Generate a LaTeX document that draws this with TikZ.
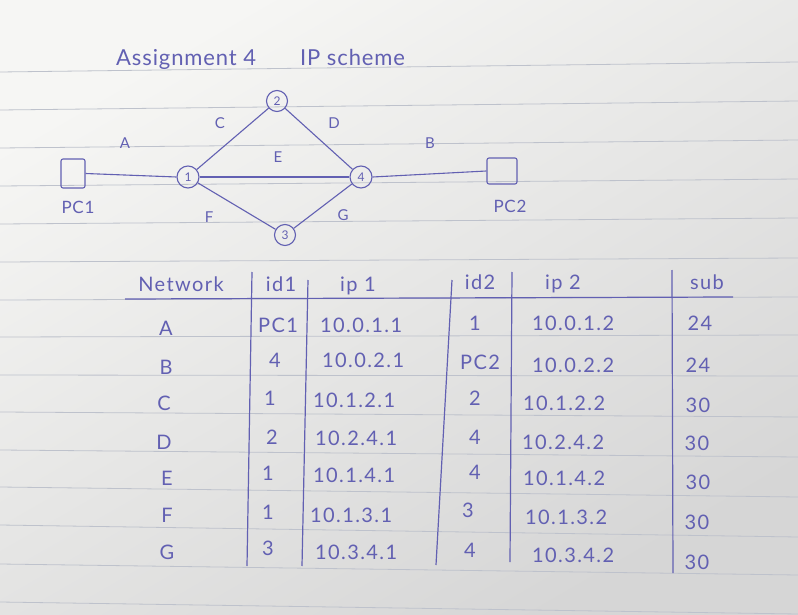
\documentclass[tikz,border=0pt]{standalone}
\usepackage{fontspec}
\setmainfont{Lato}
\definecolor{inkc}{RGB}{98,96,178}
\definecolor{pagetop}{RGB}{246,246,244}
\definecolor{pagebot}{RGB}{214,214,214}
\definecolor{rulec}{RGB}{190,194,204}
\begin{document}
\begin{tikzpicture}[x=1pt,y=-1pt,
  router/.style={circle, draw=inkc, line width=1.1pt, minimum size=22pt, inner sep=0pt, text=inkc, font=\fontsize{12}{12}\selectfont},
  pcbox/.style={draw=inkc, line width=1.1pt, rounded corners=2pt, minimum width=24pt, minimum height=29pt, inner sep=0pt},
  lbl/.style={text=inkc, font=\fontsize{15}{15}\selectfont, inner sep=0pt},
  pclbl/.style={text=inkc, font=\fontsize{17}{17}\selectfont\addfontfeature{LetterSpace=4}, inner sep=0pt},
  ttl/.style={text=inkc, font=\fontsize{22}{22}\selectfont\addfontfeature{LetterSpace=4}, inner sep=0pt, anchor=base west},
  cell/.style={text=inkc, font=\fontsize{20}{20}\selectfont\addfontfeature{LetterSpace=7}, inner sep=0pt, text height=14pt, text depth=0pt},
  link/.style={draw=inkc, line width=1.1pt},
  tline/.style={draw=inkc, line width=1.2pt},
  rulel/.style={draw=rulec, line width=0.8pt}
]
\useasboundingbox (0,0) rectangle (798,615);
\shade[top color=pagetop, bottom color=pagebot, shading angle=30] (0,0) rectangle (798,615);
% notebook ruling
\foreach \yl/\yr in {72/62,110/101,148/140,186/179,224/218,262/258,300/297,337/335,375/376,412/417,450/457,487/497,525/537,564/575,602/614}
  \draw[rulel] (0,\yl) -- (798,\yr);

% title
\node[ttl] (t1) at (116,66) {Assignment 4};
\node[ttl] (t2) at (300,66) {IP scheme};

% network
\node[router] (n1) at (188,177) {1};
\node[router, minimum size=21pt] (n2) at (277,101) {2};
\node[router] (n4) at (361,177) {4};
\node[router, minimum size=21pt] (n3) at (285,235) {3};
\node[pcbox] (pc1) at (73,173.5) {};
\node[pcbox, minimum width=30pt, minimum height=26pt] (pc2) at (502,171) {};
\node[pclbl] (pc1l) at (78,207) {PC1};
\node[pclbl] (pc2l) at (510,206) {PC2};

\draw[link] (pc1.east) -- (n1.west);
\draw[link] (n4.east) -- (pc2.west);
\draw[link] (n1) -- (n2);
\draw[link] (n2) -- (n4);
\draw[link] (n1) -- (n4);
\draw[link] (n1) -- (n3);
\draw[link] (n3) -- (n4);

\node[lbl] (la) at (125,143) {A};
\node[lbl] (lc) at (220,123) {C};
\node[lbl] (ld) at (334,123) {D};
\node[lbl] (le) at (278,157) {E};
\node[lbl] (lb) at (430,143) {B};
\node[lbl] (lf) at (209,217) {F};
\node[lbl] (lg) at (343,215) {G};

% table grid
\draw[tline] (125,299) -- (733,297);
\draw[tline] (252,272) -- (247,566);
\draw[tline] (308,280) -- (302,566);
\draw[tline] (452,280) -- (436,565);
\draw[tline] (512,272) -- (510,562);
\draw[tline] (672,270) -- (673,573);

% header
\node[cell] (h1) at (181,284) {Network};
\node[cell] (h2) at (281,284) {id1};
\node[cell] (h3) at (358,284) {ip 1};
\node[cell] (h4) at (480,282) {id2};
\node[cell] (h5) at (563,282) {ip 2};
\node[cell] (h6) at (707,282) {sub};

% rows: network
\node[cell] (a1) at (166,328) {A};
\node[cell] (b1) at (166,367) {B};
\node[cell] (c1) at (164,403) {C};
\node[cell] (d1) at (164,442) {D};
\node[cell] (e1) at (167,478) {E};
\node[cell] (f1) at (167,515) {F};
\node[cell] (g1) at (167,552) {G};
% id1
\node[cell] (a2) at (278,325) {PC1};
\node[cell] (b2) at (275,360) {4};
\node[cell] (c2) at (270,398) {1};
\node[cell] (d2) at (272,437) {2};
\node[cell] (e2) at (268,473) {1};
\node[cell] (f2) at (268,512) {1};
\node[cell] (g2) at (268,548) {3};
% ip1
\node[cell, anchor=west] (a3) at (320,325) {10.0.1.1};
\node[cell, anchor=west] (b3) at (322,360) {10.0.2.1};
\node[cell, anchor=west] (c3) at (313,400) {10.1.2.1};
\node[cell, anchor=west] (d3) at (315,438) {10.2.4.1};
\node[cell, anchor=west] (e3) at (313,475) {10.1.4.1};
\node[cell, anchor=west] (f3) at (310,515) {10.1.3.1};
\node[cell, anchor=west] (g3) at (315,552) {10.3.4.1};
% id2
\node[cell] (a4) at (475,323) {1};
\node[cell] (b4) at (480,362) {PC2};
\node[cell] (c4) at (475,398) {2};
\node[cell] (d4) at (475,437) {4};
\node[cell] (e4) at (475,472) {4};
\node[cell] (f4) at (468,510) {3};
\node[cell] (g4) at (470,550) {4};
% ip2
\node[cell, anchor=west] (a5) at (532,323) {10.0.1.2};
\node[cell, anchor=west] (b5) at (532,365) {10.0.2.2};
\node[cell, anchor=west] (c5) at (523,403) {10.1.2.2};
\node[cell, anchor=west] (d5) at (522,442) {10.2.4.2};
\node[cell, anchor=west] (e5) at (523,478) {10.1.4.2};
\node[cell, anchor=west] (f5) at (525,517) {10.1.3.2};
\node[cell, anchor=west] (g5) at (532,555) {10.3.4.2};
% sub
\node[cell] (a6) at (700,323) {24};
\node[cell] (b6) at (698,365) {24};
\node[cell] (c6) at (698,405) {30};
\node[cell] (d6) at (697,443) {30};
\node[cell] (e6) at (698,482) {30};
\node[cell] (f6) at (697,522) {30};
\node[cell] (g6) at (697,562) {30};
\end{tikzpicture}
\end{document}
